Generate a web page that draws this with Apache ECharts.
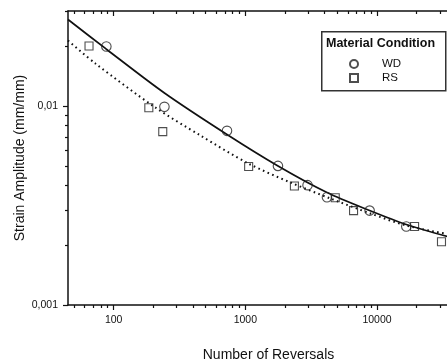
<!DOCTYPE html>
<html>
<head>
<meta charset="utf-8">
<script src="https://cdn.jsdelivr.net/npm/echarts@6/dist/echarts.min.js"></script>
<style>
html,body{margin:0;padding:0;background:#fff;}
#chart{width:447px;height:364px;}
</style>
</head>
<body>
<div id="chart"></div>
<script>
// ---- data ----
const seriesNames = ['WD', 'RS'];
const wdN = [88, 243, 726, 1770, 2970, 4170, 8790, 16700];
const wdS = [0.0199, 0.0099, 0.0075, 0.0050, 0.0040, 0.00348, 0.00298, 0.00248];
const rsN = [65, 185, 236, 1060, 2360, 4820, 6640, 19300, 30900];
const rsS = [0.0200, 0.0098, 0.00743, 0.00496, 0.00396, 0.00346, 0.00298, 0.00248, 0.00208];
const wdFitN = [45, 87.6, 243, 726, 1772, 4172, 8787, 16690, 34190];
const wdFitS = [0.0272, 0.01934, 0.01162, 0.00719, 0.004995, 0.003675, 0.002985, 0.002538, 0.002209];
const rsFitN = [45, 72.6, 207, 455, 1054, 2196, 4420, 8895, 16690, 34190];
const rsFitS = [0.02134, 0.01635, 0.00983, 0.00711, 0.00514, 0.00413, 0.00343, 0.002884, 0.002509, 0.002274];
const xMajorTicks = [100, 1000, 10000];
const xMinorTicks = [50, 60, 70, 80, 90, 200, 300, 400, 500, 600, 700, 800, 900,
  2000, 3000, 4000, 5000, 6000, 7000, 8000, 9000, 20000, 30000, 40000];
const yMajorTicks = [0.001, 0.01];
const yMinorTicks = [0.002, 0.003, 0.004, 0.005, 0.006, 0.007, 0.008, 0.009, 0.02, 0.03];
const xTitle = 'Number of Reversals';
const yTitle = 'Strain Amplitude (mm/mm)';
const legendTitle = 'Material Condition';

const zip = (a, b) => a.map((v, i) => [v, b[i]]);
const FONT = 'Liberation Sans, Arial, sans-serif';
const INK = '#111';

const xRange = {min: 45, max: 50000};
const yRange = {min: 0.001, max: 0.03};

function xAx(extra) {
  return Object.assign({
    type: 'log', logBase: 10, min: xRange.min, max: xRange.max,
    gridIndex: 0, splitLine: {show: false}, minorTick: {show: false},
    axisLine: {show: false, lineStyle: {color: INK, width: 1.5}},
    axisLabel: {show: false},
    axisPointer: {show: false}
  }, extra);
}
function yAx(extra) {
  return Object.assign({
    type: 'log', logBase: 10, min: yRange.min, max: yRange.max,
    gridIndex: 0, splitLine: {show: false}, minorTick: {show: false},
    axisLine: {show: false, lineStyle: {color: INK, width: 1.5}},
    axisLabel: {show: false}
  }, extra);
}
const fmtNum = v => Number(Number(v).toPrecision(3)).toString().replace('.', ',');

const chart = echarts.init(document.getElementById('chart'), null, {renderer: 'canvas'});
chart.setOption({
  backgroundColor: '#fff',
  animation: false,
  textStyle: {fontFamily: FONT},
  grid: {left: 68, top: 11, height: 294, width: 401, containLabel: false, outerBoundsMode: 'none'},
  xAxis: [
    xAx({position: 'bottom',
      axisLine: {show: true, onZero: false, lineStyle: {color: INK, width: 1.5}},
      axisTick: {show: true, inside: false, length: 5, lineStyle: {color: INK, width: 1.2}, customValues: xMajorTicks},
      axisLabel: {show: true, margin: 10, fontSize: 10.5, color: INK, fontFamily: FONT,
        customValues: xMajorTicks, formatter: v => String(Math.round(v))},
      name: xTitle, nameLocation: 'middle', nameGap: 43, nameMoveOverlap: false,
      nameTextStyle: {fontSize: 14, color: INK, fontFamily: FONT}}),
    xAx({position: 'bottom',
      axisTick: {show: true, inside: false, length: 3, lineStyle: {color: INK, width: 1.2}, customValues: xMinorTicks}}),
    xAx({position: 'top',
      axisLine: {show: true, onZero: false, lineStyle: {color: INK, width: 1.5}},
      axisTick: {show: true, inside: true, length: 5, lineStyle: {color: INK, width: 1.2}, customValues: xMajorTicks}}),
    xAx({position: 'top',
      axisTick: {show: true, inside: true, length: 3, lineStyle: {color: INK, width: 1.2}, customValues: xMinorTicks}})
  ],
  yAxis: [
    yAx({position: 'left',
      axisLine: {show: true, onZero: false, lineStyle: {color: INK, width: 1.5}},
      axisTick: {show: true, inside: false, length: 5, lineStyle: {color: INK, width: 1.2}, customValues: yMajorTicks},
      axisLabel: {show: true, margin: 10, fontSize: 10.5, color: INK, fontFamily: FONT,
        customValues: yMajorTicks, formatter: fmtNum},
      name: yTitle, nameLocation: 'middle', nameGap: 41, nameRotate: 90, nameMoveOverlap: false,
      nameTextStyle: {fontSize: 14, color: INK, fontFamily: FONT}}),
    yAx({position: 'left',
      axisTick: {show: true, inside: false, length: 3, lineStyle: {color: INK, width: 1.2}, customValues: yMinorTicks}})
  ],
  legend: {
    show: true, data: seriesNames, orient: 'vertical',
    left: 344, top: 52, itemWidth: 8, itemHeight: 8, itemGap: 0, z: 6,
    textStyle: {fontSize: 11.5, lineHeight: 14, color: INK, fontFamily: FONT, padding: [0, 0, 0, 19]},
    selectedMode: false
  },
  graphic: [
    {type: 'rect', z: 1, left: 321, top: 31,
      shape: {width: 124, height: 59},
      style: {fill: '#fff', stroke: '#333', lineWidth: 1.5}},
    {type: 'text', z: 2, left: 326, top: 37,
      style: {text: legendTitle, font: 'bold 12.5px ' + FONT, fill: INK}}
  ],
  series: [
    {name: 'WD fit', type: 'line', xAxisIndex: 0, yAxisIndex: 0, data: zip(wdFitN, wdFitS),
      smooth: 0.3, showSymbol: false, symbol: 'none', silent: true, clip: true,
      lineStyle: {color: INK, width: 1.7}, z: 2},
    {name: 'RS fit', type: 'line', xAxisIndex: 0, yAxisIndex: 0, data: zip(rsFitN, rsFitS),
      smooth: 0.3, showSymbol: false, symbol: 'none', silent: true, clip: true,
      lineStyle: {color: INK, width: 2, type: [1.6, 3.4]}, z: 2},
    {name: 'WD', type: 'scatter', xAxisIndex: 0, yAxisIndex: 0, data: zip(wdN, wdS),
      symbol: 'circle', symbolSize: 9.5,
      itemStyle: {color: 'rgba(255,255,255,0)', borderColor: '#222', borderWidth: 1.1}, z: 3},
    {name: 'RS', type: 'scatter', xAxisIndex: 0, yAxisIndex: 0, data: zip(rsN, rsS),
      symbol: 'rect', symbolSize: 8,
      itemStyle: {color: 'rgba(255,255,255,0)', borderColor: '#222', borderWidth: 1.1}, z: 3}
  ]
});
</script>
</body>
</html>
